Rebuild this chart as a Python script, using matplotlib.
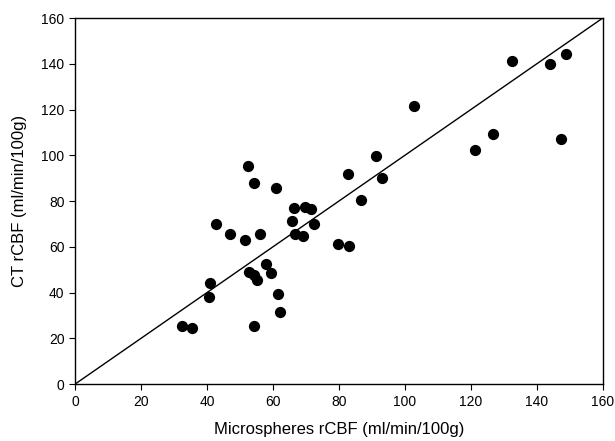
import matplotlib
matplotlib.use('Agg')
import matplotlib.pyplot as plt

# microspheres rCBF vs CT rCBF (ml/min/100g)
micro = [32.4, 35.4, 40.5, 41.0, 42.7, 46.9, 51.5, 56.0, 52.8, 54.4, 55.3, 54.3,
         58.0, 59.4, 61.6, 62.3, 52.5, 54.2, 60.9, 66.3, 65.7, 66.7, 69.1, 69.7,
         71.5, 72.4, 79.7, 83.0, 86.7, 82.8, 91.2, 93.1, 102.9, 121.2, 126.6,
         132.6, 144.1, 148.9, 147.3]
ct = [25.2, 24.6, 38.0, 44.0, 70.1, 65.8, 62.9, 65.6, 49.0, 47.8, 45.5, 25.4,
      52.4, 48.5, 39.5, 31.6, 95.3, 87.8, 85.6, 77.2, 71.3, 65.5, 64.7, 77.6,
      76.7, 69.8, 61.1, 60.4, 80.3, 91.8, 99.8, 90.3, 121.7, 102.2, 109.3,
      141.3, 140.1, 144.4, 107.1]
line = [0, 160]

plt.rcParams['font.family'] = ['Liberation Sans', 'DejaVu Sans']

fig = plt.figure(figsize=(6.15, 4.41), dpi=100)
ax = fig.add_axes([0.122, 0.129, 0.858, 0.830])

ax.plot(line, line, c='black', lw=1)
ax.scatter(micro, ct, s=50, c='black', zorder=3)

ax.set_xlim(0, 160)
ax.set_ylim(0, 160)
ax.set_xticks(range(0, 161, 20))
ax.set_yticks(range(0, 161, 20))
ax.tick_params(direction='out', length=4, labelsize=10)
for s in ax.spines.values():
    s.set_linewidth(1)

ax.set_xlabel('Microspheres rCBF (ml/min/100g)', fontsize=12, labelpad=10)
ax.set_ylabel('CT rCBF (ml/min/100g)', fontsize=12, labelpad=10)

plt.savefig('out.png', dpi=100)
